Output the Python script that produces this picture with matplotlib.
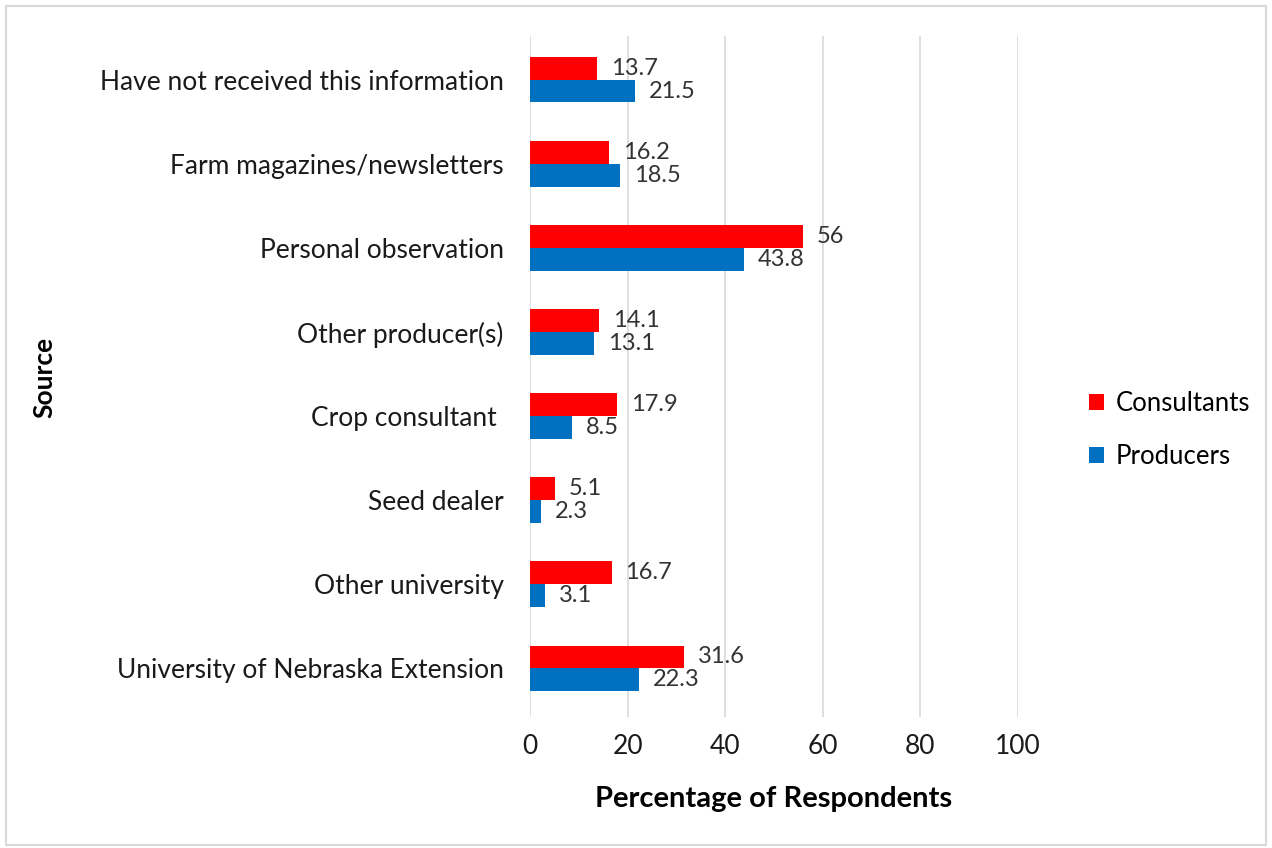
import matplotlib.pyplot as plt
import numpy as np
from matplotlib.patches import Rectangle

plt.rcParams['font.family'] = ['Lato', 'DejaVu Sans']

sources = ["University of Nebraska Extension", "Other university", "Seed dealer",
           "Crop consultant ", "Other producer(s)", "Personal observation",
           "Farm magazines/newsletters", "Have not received this information"]
consultants = [31.6, 16.7, 5.1, 17.9, 14.1, 56, 16.2, 13.7]
producers = [22.3, 3.1, 2.3, 8.5, 13.1, 43.8, 18.5, 21.5]
xticks = [0, 20, 40, 60, 80, 100]

red = '#FF0000'
blue = '#0070C0'

fig = plt.figure(figsize=(12.72, 8.48), dpi=100)
ax = fig.add_axes([0.4167, 0.1545, 0.3836, 0.803])

y = np.arange(len(sources))
h = 0.27
ax.barh(y + h / 2, consultants, height=h, color=red, label='Consultants', zorder=3)
ax.barh(y - h / 2, producers, height=h, color=blue, label='Producers', zorder=3)

# data labels next to the bar ends
for yi, c, p in zip(y, consultants, producers):
    ax.annotate(f"{c:g}", (c, yi + h / 2), xytext=(10, 0), textcoords='offset points',
                va='center', ha='left', fontsize=17, color='#333333')
    ax.annotate(f"{p:g}", (p, yi - h / 2), xytext=(10, 0), textcoords='offset points',
                va='center', ha='left', fontsize=17, color='#333333')

ax.set_xlim(0, 100)
ax.set_ylim(-0.58, 7.52)
ax.set_xticks(xticks)
ax.set_yticks(y)
ax.set_yticklabels(sources)
ax.tick_params(axis='both', length=0, labelsize=19, colors='#1a1a1a')
ax.tick_params(axis='y', pad=19)
ax.tick_params(axis='x', pad=12)
ax.grid(axis='x', color='#D9D9D9', linewidth=1.2, zorder=0)
for s in ax.spines.values():
    s.set_visible(False)

ax.set_xlabel('Percentage of Respondents', fontsize=21, fontweight='bold', labelpad=20)
fig.text(0.035, 0.555, 'Source', rotation=90, fontsize=19, fontweight='bold',
         ha='center', va='center')

fig.legend(loc='center left', bbox_to_anchor=(0.838, 0.493), frameon=False,
           fontsize=18.5, handlelength=0.6, handleheight=0.6, labelspacing=1.1,
           handletextpad=0.45)

fig.patches.append(Rectangle((0.005, 0.003), 0.99, 0.99, transform=fig.transFigure,
                             fill=False, edgecolor='#D9D9D9', linewidth=1.5))

fig.savefig('out.png', dpi=100)
